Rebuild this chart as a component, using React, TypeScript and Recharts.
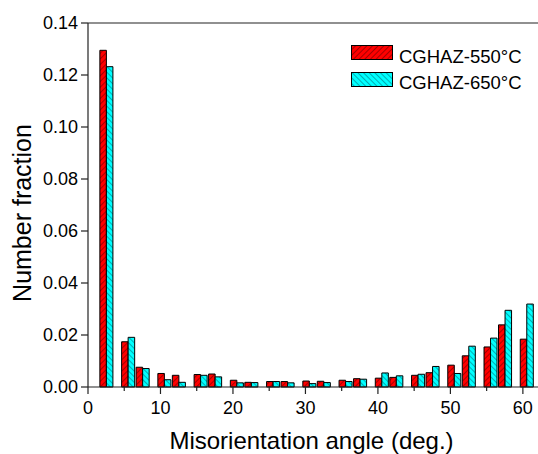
import { BarChart, Bar, XAxis, YAxis, Legend, ReferenceLine } from "recharts";

const angles = [
  2.5, 5.5, 7.5, 10.5, 12.5, 15.5, 17.5, 20.5, 22.5, 25.5, 27.5, 30.5,
  32.5, 35.5, 37.5, 40.5, 42.5, 45.5, 47.5, 50.5, 52.5, 55.5, 57.5, 60.5,
];
const cghaz550 = [
  0.1295, 0.0174, 0.0076, 0.0052, 0.0045, 0.0048, 0.005, 0.0026, 0.0018,
  0.0021, 0.0021, 0.0023, 0.0022, 0.0026, 0.0032, 0.0034, 0.0037, 0.0045,
  0.0055, 0.0084, 0.012, 0.0154, 0.0239, 0.0184,
];
const cghaz650 = [
  0.1232, 0.0191, 0.0071, 0.0028, 0.0018, 0.0045, 0.0039, 0.0016, 0.0017,
  0.0021, 0.0016, 0.0013, 0.0017, 0.0021, 0.003, 0.0054, 0.0043, 0.0049,
  0.0079, 0.0052, 0.0157, 0.0188, 0.0295, 0.0319,
];
const xTicks = [0, 5, 10, 15, 20, 25, 30, 35, 40, 45, 50, 55, 60];
const yTicks = [0, 0.02, 0.04, 0.06, 0.08, 0.1, 0.12, 0.14];
const seriesNames = ["CGHAZ-550°C", "CGHAZ-650°C"];

const data = angles.map((angle, i) => ({
  angle,
  s550: cghaz550[i],
  s650: cghaz650[i],
}));

const FONT = "'Liberation Sans', Arial, sans-serif";
const AXIS = "#222";

function HatchDefs({ suffix }: { suffix: string }) {
  return (
    <defs>
      <pattern
        id={"hatchRed" + suffix}
        patternUnits="userSpaceOnUse"
        width="4"
        height="4"
        patternTransform="rotate(45)"
      >
        <rect width="4" height="4" fill="#ff0000" />
        <line x1="0" y1="0" x2="0" y2="4" stroke="#3a0000" strokeWidth="0.9" />
      </pattern>
      <pattern
        id={"hatchCyan" + suffix}
        patternUnits="userSpaceOnUse"
        width="4"
        height="4"
        patternTransform="rotate(-45)"
      >
        <rect width="4" height="4" fill="#00ffff" />
        <line x1="0" y1="0" x2="0" y2="4" stroke="#004a55" strokeWidth="0.9" />
      </pattern>
    </defs>
  );
}

// major ticks every 10 with labels, minor every 5
const AngleTick = (props: any) => {
  const { x, y, payload } = props;
  const major = payload.value % 10 === 0;
  return (
    <g>
      <line x1={x} x2={x} y1={y} y2={y + (major ? 7 : 4)} stroke={AXIS} strokeWidth={1.2} />
      {major && (
        <text x={x} y={y + 27} textAnchor="middle" fontSize={18} fill="#000" fontFamily={FONT}>
          {payload.value}
        </text>
      )}
    </g>
  );
};

const renderLegend = () => (
  <svg width={187} height={50} style={{ display: "block" }}>
    <HatchDefs suffix="Lg" />
    <rect x={0.5} y={1.5} width={41} height={14} fill="url(#hatchRedLg)" stroke="#000" />
    <rect x={0.5} y={28.5} width={41} height={14} fill="url(#hatchCyanLg)" stroke="#000" />
    <text x={48} y={18.5} fontSize={18.5} fill="#000" fontFamily={FONT}>
      {seriesNames[0]}
    </text>
    <text x={48} y={45} fontSize={18.5} fill="#000" fontFamily={FONT}>
      {seriesNames[1]}
    </text>
  </svg>
);

export default function App() {
  return (
    <div
      style={{
        position: "fixed",
        left: 0,
        top: 0,
        width: 538,
        height: 454,
        overflow: "hidden",
        background: "#fff",
        fontFamily: FONT,
      }}
    >
      <BarChart
        width={541}
        height={454}
        data={data}
        margin={{ top: 23, right: 0, left: 0, bottom: 0 }}
        barGap={0}
        barCategoryGap={0}
      >
        <HatchDefs suffix="" />
        <XAxis
          type="number"
          dataKey="angle"
          domain={[0, 62.5]}
          ticks={xTicks}
          interval={0}
          height={67}
          tickSize={0}
          tickMargin={0}
          tickLine={false}
          axisLine={{ stroke: AXIS, strokeWidth: 1.2 }}
          tick={<AngleTick />}
          label={{
            value: "Misorientation angle (deg.)",
            position: "insideBottom",
            offset: 5,
            dx: -3,
            style: { fontSize: 24, fill: "#000", fontFamily: FONT },
          }}
        />
        <YAxis
          type="number"
          domain={[0, 0.14]}
          ticks={yTicks}
          interval={0}
          width={88}
          tickSize={7}
          tickMargin={3}
          tickLine={{ stroke: AXIS, strokeWidth: 1.2 }}
          axisLine={{ stroke: AXIS, strokeWidth: 1.2 }}
          tickFormatter={(v: number) => v.toFixed(2)}
          tick={{ fontSize: 18, fill: "#000", fontFamily: FONT }}
          label={{
            value: "Number fraction",
            angle: -90,
            position: "center",
            dx: -22,
            dy: 8,
            style: { fontSize: 25, fill: "#000", fontFamily: FONT },
          }}
        />
        <ReferenceLine y={0.14} stroke={AXIS} strokeWidth={1.2} />
        <Legend
          layout="vertical"
          align="center"
          verticalAlign="middle"
          content={renderLegend}
          wrapperStyle={{ left: 351, top: 44, width: 187 }}
        />
        <Bar
          dataKey="s550"
          name={seriesNames[0]}
          fill="url(#hatchRed)"
          stroke="#000"
          strokeWidth={1}
          barSize={7.3}
          isAnimationActive={false}
        />
        <Bar
          dataKey="s650"
          name={seriesNames[1]}
          fill="url(#hatchCyan)"
          stroke="#000"
          strokeWidth={1}
          barSize={7.3}
          isAnimationActive={false}
        />
      </BarChart>
    </div>
  );
}
